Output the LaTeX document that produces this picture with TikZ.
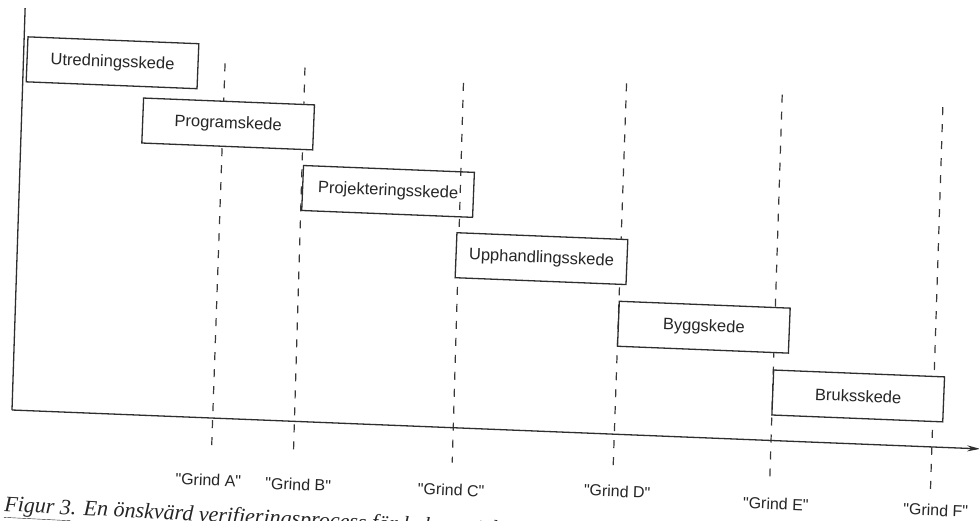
\documentclass[tikz,border=0pt]{standalone}
\usepackage{fontspec}
\setmainfont{Liberation Sans}[Ligatures=TeXOff]
\newfontfamily\capfont{Liberation Serif}
\usetikzlibrary{arrows.meta}
\begin{document}
\begin{tikzpicture}[x=1pt,y=1pt,
  ink/.style={draw=black!82, line width=1.3pt},
  phase/.style={ink, fill=white, minimum width=171pt, minimum height=45pt, inner sep=0pt,
    font=\fontsize{16.5}{19}\selectfont, text=black!85, transform shape},
  gate/.style={draw=black!78, line width=1.2pt, dash pattern=on 8pt off 9pt},
  gatelabel/.style={font=\fontsize{16}{19}\selectfont, text=black!85, transform shape, inner sep=0pt}]
\useasboundingbox (0,0) rectangle (979,-520);
\fill[white] (0,0) rectangle (979,-520);
\begin{scope}[shift={(12,-410)}, rotate=-2.3]
  % axes corner and ends
  \coordinate (O) at (0,0);
  \coordinate (Ytop) at (-3,402);
  \coordinate (Xend) at (969,0);
  % gates
  \coordinate (gAt) at (199,355);  \coordinate (gAb) at (201,-32);
  \coordinate (gBt) at (279,354);  \coordinate (gBb) at (283,-34);
  \coordinate (gCt) at (438,345);  \coordinate (gCb) at (442,-35);
  \coordinate (gDt) at (601,351);  \coordinate (gDb) at (603,-35);
  \coordinate (gEt) at (757,346);  \coordinate (gEb) at (760,-40);
  \coordinate (gFt) at (918,340);  \coordinate (gFb) at (921,-43);
  \draw[gate] (gAt) -- (gAb);
  \draw[gate] (gBt) -- (gBb);
  \draw[gate] (gCt) -- (gCb);
  \draw[gate] (gDt) -- (gDb);
  \draw[gate] (gEt) -- (gEb);
  \draw[gate] (gFt) -- (gFb);
  % phases
  \node[phase] (b1) at (86.5,351) {Utredningsskede};
  \node[phase] (b2) at (204.5,294.5) {Programskede};
  \node[phase, fill=none] (b3) at (367,233.5) {Projekteringsskede};
  \node[phase] (b4) at (523,172.5) {Upphandlingsskede};
  \node[phase] (b5) at (688,110.5) {Byggskede};
  \node[phase] (b6) at (845,48) {Bruksskede};
  % gate labels
  \node[gatelabel] (lA) at (199,-62) {"Grind A"};
  \node[gatelabel] (lB) at (289,-63) {"Grind B"};
  \node[gatelabel] (lC) at (442,-62) {"Grind C"};
  \node[gatelabel] (lD) at (608,-57) {"Grind D"};
  \node[gatelabel] (lE) at (767,-63) {"Grind E"};
  \node[gatelabel] (lF) at (927,-63) {"Grind F"};
  % axes
  \draw[ink] (Ytop) -- (O);
  \draw[ink, -{Stealth[length=13pt,width=6pt]}] (O) -- (Xend);
  % caption (cut by the page edge)
  \node[anchor=base west, font=\capfont\itshape\fontsize{22}{26}\selectfont, text=black!85,
    transform shape, inner sep=0pt, rotate=-0.6] (cap) at (-4,-101.5)
    {\underline{Figur 3}. En önskvärd verifieringsprocess för hela projektet};
\end{scope}
\end{tikzpicture}
\end{document}
